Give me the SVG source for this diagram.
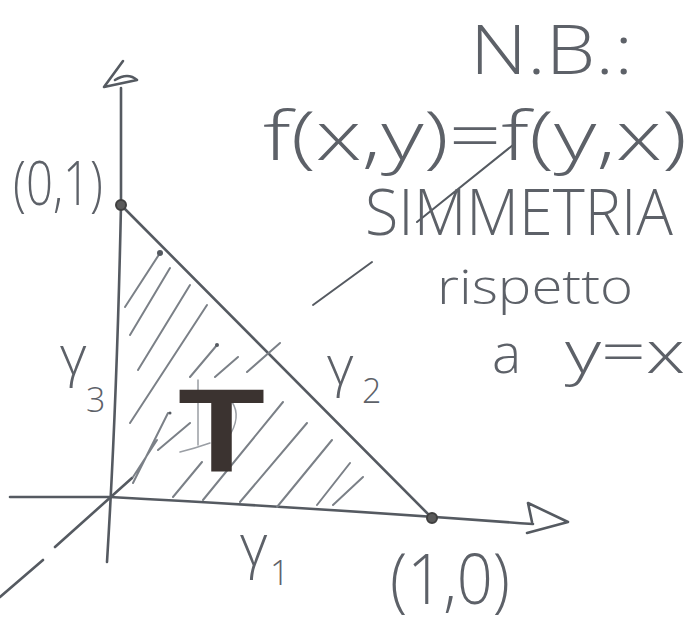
<svg xmlns="http://www.w3.org/2000/svg" width="697" height="628" viewBox="0 0 697 628">
<style>
.pen{fill:none;stroke:#555a61;stroke-width:2.6;stroke-linecap:round;stroke-linejoin:round}
.hat{fill:none;stroke:#7b8087;stroke-width:2;stroke-linecap:round}
.faint{fill:none;stroke:#9a9ea4;stroke-width:1.5;stroke-linecap:round}
.txt{font-family:"Open Sans","Lato","Liberation Sans",sans-serif;font-weight:300;fill:#5d6168}
.pt{fill:#5a5a5a;stroke:#3f3f3f;stroke-width:2}
</style>
<rect width="697" height="628" fill="#ffffff"/>
<g id="axes">
<path class="pen" d="M121,88 L121,205 Q117,400 107,562"/>
<path class="pen" d="M123,61 L104,87 L137,80 Q128,72 115,80"/>
<path class="pen" d="M10,497 L110,497 Q300,507 533,524"/>
<path class="pen" d="M528,503 L568,522 L527,533 M528,503 L532,522"/>
<path class="pen" d="M0,597 L43,560 M55,547 L132,478"/>
</g>
<g id="triangle">
<path class="pen" d="M121,205 L432,518"/>
<circle class="pt" cx="121" cy="205" r="5"/>
<circle class="pt" cx="432" cy="518" r="5"/>
</g>
<g id="hatching">
<path class="hat" d="M125,307 L160,253 M130,335 L170,268 M138,370 L190,285 M130,423 L207,305 M133,483 L168,413 M158,450 L190,423 M133,477 L157,440 M190,377 L217,345 M215,377 L238,357 M247,372 L280,343 M173,497 L202,462 M203,500 L283,402 M240,502 L307,423 M277,507 L332,440 M317,505 L350,463 M333,505 L363,477"/>
<circle cx="160" cy="253" r="3" fill="#555a61"/>
<circle cx="217" cy="345" r="2" fill="#555a61"/>
<circle cx="170" cy="413" r="1.5" fill="#555a61"/>
</g>
<g id="strokes">
<path class="pen" d="M417,222 L513,145" style="stroke-width:2"/>
<path class="pen" d="M313,305 L372,262" style="stroke-width:2"/>
<path class="faint" d="M198,380 L198,445 M180,452 Q196,448 210,443 M232,402 Q242,417 228,438"/>
</g>
<g id="labels">
<text class="txt" x="470" y="74" font-size="68" textLength="163" lengthAdjust="spacingAndGlyphs">N.B.:</text>
<text class="txt" x="263" y="160" font-size="68" textLength="424" lengthAdjust="spacingAndGlyphs">f(x,y)=f(y,x)</text>
<text class="txt" x="365" y="235" font-size="64" textLength="308" lengthAdjust="spacingAndGlyphs">SIMMETRIA</text>
<text class="txt" x="437" y="304" font-size="48" textLength="196" lengthAdjust="spacingAndGlyphs">rispetto</text>
<text class="txt" x="492" y="373" font-size="55">a</text>
<text class="txt" x="565" y="373" font-size="58" textLength="120" lengthAdjust="spacingAndGlyphs">y=x</text>
<text class="txt" x="13" y="205" font-size="60" textLength="90" lengthAdjust="spacingAndGlyphs">(0,1)</text>
<text class="txt" x="390" y="604" font-size="70" textLength="120" lengthAdjust="spacingAndGlyphs">(1,0)</text>
<text class="txt" x="60" y="375" font-size="56">γ</text>
<text class="txt" x="86" y="412" font-size="34">3</text>
<text class="txt" x="327" y="385" font-size="56">γ</text>
<text class="txt" x="362" y="403" font-size="34">2</text>
<text class="txt" x="240" y="566" font-size="58">γ</text>
<text class="txt" x="270" y="585" font-size="34">1</text>
<text x="178" y="472" font-size="118" font-weight="bold" textLength="87" lengthAdjust="spacingAndGlyphs" style="font-family:'Liberation Sans','DejaVu Sans',sans-serif;fill:#3b3330">T</text>
</g>
</svg>
